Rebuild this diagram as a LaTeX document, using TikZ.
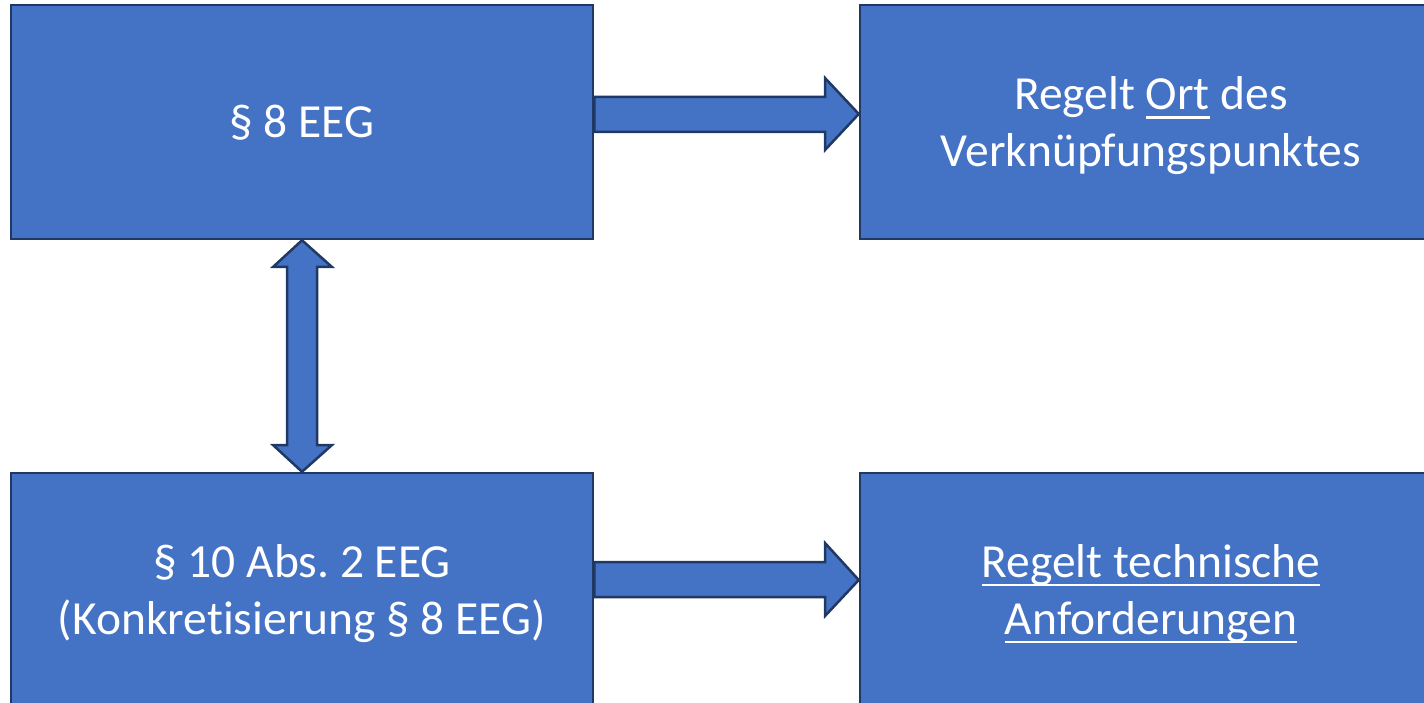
\documentclass[tikz,border=0pt]{standalone}
\usepackage{fontspec}
\setmainfont{Carlito}[Ligatures=NoCommon]
\frenchspacing
\newcommand\myul[1]{\leavevmode\begingroup\setbox0\hbox{#1}\rlap{\vrule height -6pt depth 8.8pt width \wd0}\box0\endgroup}
\usetikzlibrary{calc}
\definecolor{boxfill}{HTML}{4472C4}
\definecolor{boxline}{HTML}{203864}
\tikzset{
  box/.style={draw=boxline, fill=boxfill, line width=2.5pt, minimum width=582pt, minimum height=234pt, inner sep=0pt},
  boxtext/.style={text=white, align=center, inner sep=0pt, font=\fontsize{47.5}{57}\selectfont\frenchspacing},
  blockarrow/.style={draw=boxline, fill=boxfill, line width=2.5pt, line join=miter}
}
\begin{document}
\begin{tikzpicture}[x=1pt,y=-1pt]
\useasboundingbox (0,0) rectangle (1424,703);
\fill[white] (0,0) rectangle (1424,703);
\begin{scope}
\clip (0,0) rectangle (1424,703);
\node[box] (a) at (302,122) {};
\node[box] (b) at (1151,122) {};
\node[box] (c) at (302,590) {};
\node[box] (d) at (1151,590) {};
\end{scope}
\node[boxtext] (ta) at ($(a.center)+(0,1)$) {§ 8 EEG};
\node[boxtext] (tb) at ($(b.center)+(0,4)$) {Regelt \myul{Ort} des\\Verknüpfungspunktes};
\node[boxtext] (tc) at ($(c.center)+(0,4)$) {§ 10 Abs. 2 EEG\\(Konkretisierung § 8 EEG)};
\node[boxtext] (td) at ($(d.center)+(0,4)$) {\myul{Regelt technische}\\\myul{Anforderungen}};
% top horizontal block arrow
\draw[blockarrow] (a.east |- 0,97) -- (825,97) -- (825,78) -- (b.west |- 0,114)
  -- (825,150) -- (825,132) -- (a.east |- 0,132) -- cycle;
% bottom horizontal block arrow
\draw[blockarrow] (c.east |- 0,562) -- (825,562) -- (825,543) -- (d.west |- 0,580)
  -- (825,616) -- (825,597) -- (c.east |- 0,597) -- cycle;
% vertical double block arrow
\draw[blockarrow] (a.south) -- (332,267) -- (317,267) -- (317,445) -- (332,445) -- (c.north)
  -- (273,445) -- (287,445) -- (287,267) -- (273,267) -- cycle;
\end{tikzpicture}
\end{document}
